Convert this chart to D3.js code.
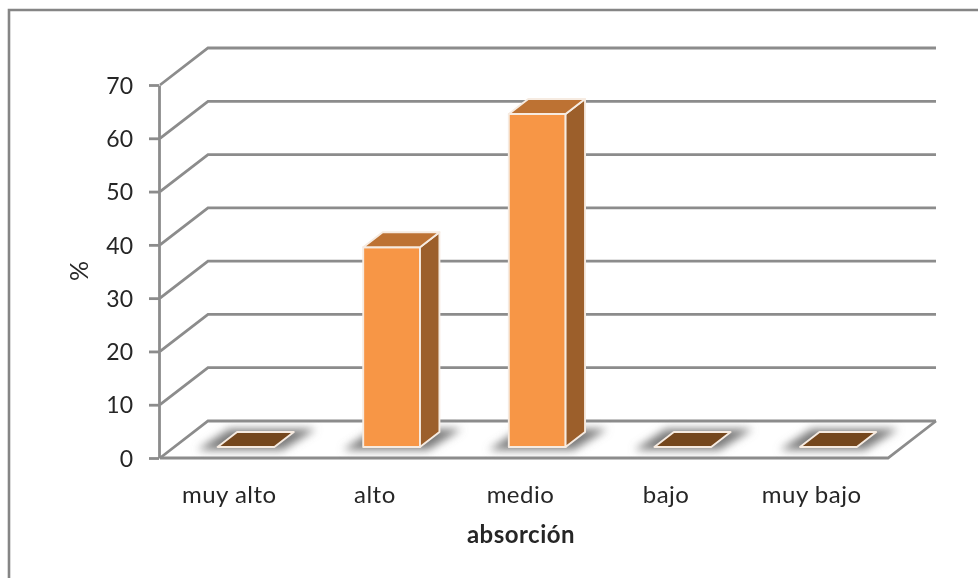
<!DOCTYPE html>
<html><head><meta charset="utf-8">
<script src="https://cdn.jsdelivr.net/npm/d3@7"></script>
<style>html,body{margin:0;padding:0;background:#fff;overflow:hidden}svg{display:block;filter:blur(.6px)}text{font-family:Lato,"Open Sans",sans-serif;fill:#262626}</style>
</head><body><div id="c"></div>
<script>
const categories=["muy alto","alto","medio","bajo","muy bajo"];
const values=[0,37.5,62.5,0,0];
const yTicks=[0,10,20,30,40,50,60,70];
const xTitle="absorción", yTitle="%";

const W=978,H=578,gridCol="#8c8c8c";
const wallDx=48,wallDy=-37;           // 3-D offset of the back wall
const barInset=.275, barDepth=.405;   // depth placement as fraction of the floor
const x=d3.scaleBand().domain(categories).range([160,888]).paddingInner(.61).paddingOuter(.305);
const y=d3.scaleLinear().domain([0,70]).range([458,85]);
const svg=d3.select("#c").append("svg").attr("width",W).attr("height",H);
const defs=svg.append("defs");
defs.append("filter").attr("id","sh").attr("x","-40%").attr("y","-100%").attr("width","180%").attr("height","300%")
  .append("feGaussianBlur").attr("stdDeviation",4);

svg.append("path").attr("d",`M9,${H+5}V10H${W+5}`).attr("fill","none").attr("stroke","#858585").attr("stroke-width",2.6);

const pts=a=>a.map(p=>p.join(",")).join(" ");
const g=svg.append("g").attr("fill","none").attr("stroke",gridCol).attr("stroke-width",2.8);
yTicks.forEach(t=>{
  const yy=y(t);
  g.append("polyline").attr("points",pts([[160,yy],[160+wallDx,yy+wallDy],[888+wallDx,yy+wallDy]]));
});
const y0=y(0);
g.append("polyline").attr("points",pts([[160,y0],[888,y0],[888+wallDx,y0+wallDy]]));

// y axis
const axis=d3.axisLeft(y).tickValues(yTicks).tickSize(10).tickPadding(16).tickSizeOuter(0);
const ax=svg.append("g").attr("transform","translate(159,0)").call(axis);
ax.select(".domain").attr("stroke",gridCol).attr("stroke-width",2.8);
ax.selectAll(".tick line").attr("stroke",gridCol).attr("stroke-width",2.8);
ax.selectAll("text").attr("font-size",23).attr("font-family","Lato").attr("fill","#262626").attr("dy","0.36em");

// bars
const front=wallDx*barInset, frontY=-11;
const dDx=wallDx*barDepth, dDy=wallDy*barDepth;
const bars=svg.append("g");
categories.forEach((c,i)=>{
  const x0=x(c)+front, bw=x.bandwidth(), x1=x0+bw;
  const yb=y(0)+frontY;
  bars.append("polygon").attr("points",pts([[x0-20,yb+3],[x1+8,yb+3],[x1+dDx+22,yb+dDy-3],[x0+dDx-8,yb+dDy-3]]))
    .attr("fill","#7c7c7c").attr("filter","url(#sh)");
});
categories.forEach((c,i)=>{
  const x0=x(c)+front, bw=x.bandwidth(), x1=x0+bw;
  const yb=y(0)+frontY, h=y(0)-y(values[i]), yt=yb-h;
  const st={stroke:"#f6ebe1","stroke-width":1.9,"stroke-linejoin":"round"};
  const add=(p,f)=>{const e=bars.append("polygon").attr("points",pts(p)).attr("fill",f);Object.entries(st).forEach(([k,v])=>e.attr(k,v));};
  if(values[i]>0){
    add([[x0,yt],[x1,yt],[x1,yb],[x0,yb]],"#f79646");
    add([[x1,yt],[x1+dDx,yt+dDy],[x1+dDx,yb+dDy],[x1,yb]],"#9c5f2b");
    add([[x0,yt],[x1,yt],[x1+dDx,yt+dDy],[x0+dDx,yt+dDy]],"#bd7233");
  } else {
    add([[x0,yb],[x1,yb],[x1+dDx,yb+dDy],[x0+dDx,yb+dDy]],"#75471d");
  }
});

// category labels
svg.append("g").selectAll("text").data(categories).join("text")
  .attr("x",d=>x(d)+x.bandwidth()/2-3.5).attr("y",503).attr("text-anchor","middle").attr("font-size",24).attr("letter-spacing",.5).text(d=>d);
svg.append("text").attr("x",521).attr("y",543).attr("text-anchor","middle").attr("font-size",24).attr("letter-spacing",.5).attr("font-weight",700).text(xTitle);
svg.append("text").attr("transform","translate(88,271) rotate(-90)").attr("text-anchor","middle").attr("font-size",25).attr("font-weight",400).text(yTitle);
</script></body></html>
